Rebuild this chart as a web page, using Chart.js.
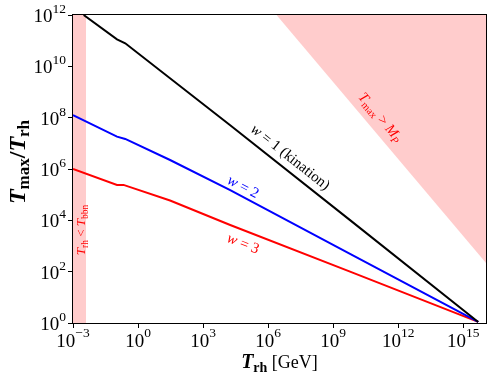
<!DOCTYPE html>
<html lang="en">
<head>
<meta charset="UTF-8">
<title>Tmax / Trh</title>
<script src="https://cdn.jsdelivr.net/npm/chart.js"></script>
<style>
    body { margin: 0; background: #fff; }
    .chart-container { position: relative; width: 494px; height: 381px; }
</style>
</head>
<body>
<div class="chart-container"><canvas id="tmaxChart"></canvas></div>
<script>
// values: reheating temperature (GeV) and Tmax/Trh
const trhW1 = [3.1e-3, 0.107, 0.257, 1.78e4, 6.0e9, 4.9e15];
const ratioW1 = [1e12, 1.12e11, 7.9e10, 5.1e7, 1.02e4, 1.1];
const trhW2 = [1e-3, 0.107, 0.257, 30, 1.78e4, 6.0e9, 4.9e15];
const ratioW2 = [1.26e8, 1.82e7, 1.48e7, 2.24e6, 1.51e5, 490, 1.1];
const trhW3 = [1e-3, 0.107, 0.214, 30, 1.78e4, 6.0e9, 4.9e15];
const ratioW3 = [1.0e6, 2.4e5, 2.4e5, 5.9e4, 6.6e3, 100, 1.1];

// excluded regions
const tBBN = 4e-3;         // GeV
const mPlanck = 2.435e18;  // GeV

// axes
const xMin = 1e-3, xMax = 1.12e16;
const yMin = 1, yMax = 1e12;
const xTicks = [1e-3, 1, 1e3, 1e6, 1e9, 1e12, 1e15];
const xTickExp = ['\u22123', '0', '3', '6', '9', '12', '15'];
const yTicks = [1, 1e2, 1e4, 1e6, 1e8, 1e10, 1e12];
const yTickExp = ['0', '2', '4', '6', '8', '10', '12'];

const SERIF = '"Liberation Serif", "DejaVu Serif", serif';
function font(size, style) {
    return (style || '') + ' ' + size + 'px ' + SERIF;
}

// text drawn on the plot (positions in data coordinates)
const notes = [
    { x: 1.1e7, y: 3.0e6, slope: -0.67, color: '#000', runs: [
        { t: 'w', f: font(15, 'italic') }, { t: ' = 1 (kination)', f: font(15) }] },
    { x: 7.2e4, y: 2.1e5, slope: -0.444, color: '#0000ff', runs: [
        { t: 'w', f: font(15, 'italic') }, { t: ' = 2', f: font(15) }] },
    { x: 7.2e4, y: 1.3e3, slope: -0.333, color: '#ff0000', runs: [
        { t: 'w', f: font(15, 'italic') }, { t: ' = 3', f: font(15) }] },
    { x: 1.6e11, y: 1.07e8, slope: -1, color: '#ff0000', runs: [
        { t: 'T', f: font(14.5, 'italic') }, { t: 'max', f: font(10.5), dy: 3 },
        { t: ' > ', f: font(14.5) }, { t: 'M', f: font(14.5, 'italic') },
        { t: 'P', f: font(10.5, 'italic'), dy: 3 }] },
    { x: 2.2e-3, y: 4.2e3, angle: -Math.PI / 2, color: '#ff0000', runs: [
        { t: 'T', f: font(13, 'italic') }, { t: 'rh', f: font(9.5), dy: 3 },
        { t: ' < ', f: font(13) }, { t: 'T', f: font(13, 'italic') },
        { t: 'bbn', f: font(9.5), dy: 3 }] }
];

function drawRich(ctx, runs, x, y, angle, color, shift) {
    ctx.save();
    ctx.translate(x, y);
    ctx.rotate(angle);
    ctx.fillStyle = color;
    ctx.textBaseline = 'alphabetic';
    ctx.textAlign = 'left';
    let total = 0;
    runs.forEach(r => { ctx.font = r.f; total += ctx.measureText(r.t).width; });
    let cx = -total / 2;
    runs.forEach(r => {
        ctx.font = r.f;
        ctx.fillText(r.t, cx, shift + (r.dy || 0));
        cx += ctx.measureText(r.t).width;
    });
    ctx.restore();
}

const toPoints = (xs, ys) => xs.map((x, i) => ({ x: x, y: ys[i] }));

const decorPlugin = {
    id: 'decor',
    afterDatasetsDraw(chart) {
        const ctx = chart.ctx;
        const xs = chart.scales.x, ys = chart.scales.y;
        const a = chart.chartArea;

        notes.forEach(n => {
            const px = xs.getPixelForValue(n.x), py = ys.getPixelForValue(n.y);
            let ang = n.angle;
            if (ang === undefined) {
                const dx = xs.getPixelForValue(n.x * 10) - px;
                const dy = ys.getPixelForValue(n.y * Math.pow(10, n.slope)) - py;
                ang = Math.atan2(dy, dx);
            }
            drawRich(ctx, n.runs, px, py, ang, n.color, 5);
        });

        // frame
        ctx.save();
        ctx.strokeStyle = '#000';
        ctx.lineWidth = 1;
        ctx.strokeRect(Math.round(a.left) - 0.5, Math.round(a.top) - 0.5,
            Math.round(a.right - a.left) + 1, Math.round(a.bottom - a.top) + 1);
        ctx.restore();

        // tick labels 10^n
        ctx.save();
        ctx.fillStyle = '#000';
        ctx.textBaseline = 'alphabetic';
        xTicks.forEach((v, i) => {
            const px = xs.getPixelForValue(v);
            ctx.font = font(19);
            const w1 = ctx.measureText('10').width;
            ctx.font = font(13.5);
            const w2 = ctx.measureText(xTickExp[i]).width;
            const left = px - (w1 + w2) / 2;
            ctx.font = font(19);
            ctx.fillText('10', left, a.bottom + 24);
            ctx.font = font(13.5);
            ctx.fillText(xTickExp[i], left + w1, a.bottom + 14);
        });
        yTicks.forEach((v, i) => {
            const py = ys.getPixelForValue(v);
            ctx.font = font(13.5);
            const w2 = ctx.measureText(yTickExp[i]).width;
            ctx.font = font(19);
            const w1 = ctx.measureText('10').width;
            const right = a.left - 7;
            ctx.fillText('10', right - w2 - w1, py + 7);
            ctx.font = font(13.5);
            ctx.fillText(yTickExp[i], right - w2, py - 2);
        });
        ctx.restore();

        // axis titles
        drawRich(ctx, [
            { t: 'T', f: font(20, 'italic bold') }, { t: 'rh', f: font(14, 'bold'), dy: 4 },
            { t: ' [GeV]', f: font(18) }], (a.left + a.right) / 2, 362, 0, '#000', 6);
        drawRich(ctx, [
            { t: 'T', f: font(24, 'italic bold') }, { t: 'max', f: font(17, 'bold'), dy: 4 },
            { t: '/', f: font(24, 'bold') },
            { t: 'T', f: font(24, 'italic bold') }, { t: 'rh', f: font(17, 'bold'), dy: 4 }],
            17, 162, -Math.PI / 2, '#000', 8);
    }
};

const lineStyle = { borderWidth: 2, pointRadius: 0, fill: false, tension: 0 };

new Chart(document.getElementById('tmaxChart'), {
    type: 'line',
    data: {
        datasets: [
            Object.assign({ label: 'w = 1', data: toPoints(trhW1, ratioW1), borderColor: '#000000' }, lineStyle),
            Object.assign({ label: 'w = 2', data: toPoints(trhW2, ratioW2), borderColor: '#0000ff' }, lineStyle),
            Object.assign({ label: 'w = 3', data: toPoints(trhW3, ratioW3), borderColor: '#ff0000' }, lineStyle),
            {
                label: 'Trh < Tbbn',
                data: [{ x: xMin, y: yMax }, { x: tBBN, y: yMax }],
                fill: 'start', backgroundColor: 'rgba(255,0,0,0.2)',
                borderWidth: 0, pointRadius: 0
            },
            {
                label: 'Tmax > MP',
                data: [{ x: mPlanck / yMax, y: yMax }, { x: xMax, y: mPlanck / xMax }],
                fill: 'end', backgroundColor: 'rgba(255,0,0,0.2)',
                borderWidth: 0, pointRadius: 0
            }
        ]
    },
    options: {
        responsive: true,
        maintainAspectRatio: false,
        animation: false,
        events: [],
        layout: { padding: { top: 15, right: 8, left: 0, bottom: 0 } },
        plugins: { legend: { display: false }, tooltip: { enabled: false } },
        scales: {
            x: {
                type: 'logarithmic', min: xMin, max: xMax,
                afterBuildTicks: axis => { axis.ticks = xTicks.map(v => ({ value: v })); },
                afterFit: scale => { scale.height = 58; },
                ticks: { autoSkip: false, maxRotation: 0, callback: () => '' },
                grid: { drawOnChartArea: false, drawTicks: true, tickLength: 5, color: '#000' },
                border: { display: false }
            },
            y: {
                type: 'logarithmic', min: yMin, max: yMax,
                afterBuildTicks: axis => { axis.ticks = yTicks.map(v => ({ value: v })); },
                afterFit: scale => { scale.width = 73; },
                ticks: { autoSkip: false, callback: () => '' },
                grid: { drawOnChartArea: false, drawTicks: true, tickLength: 5, color: '#000' },
                border: { display: false }
            }
        }
    },
    plugins: [decorPlugin]
});
</script>
</body>
</html>
